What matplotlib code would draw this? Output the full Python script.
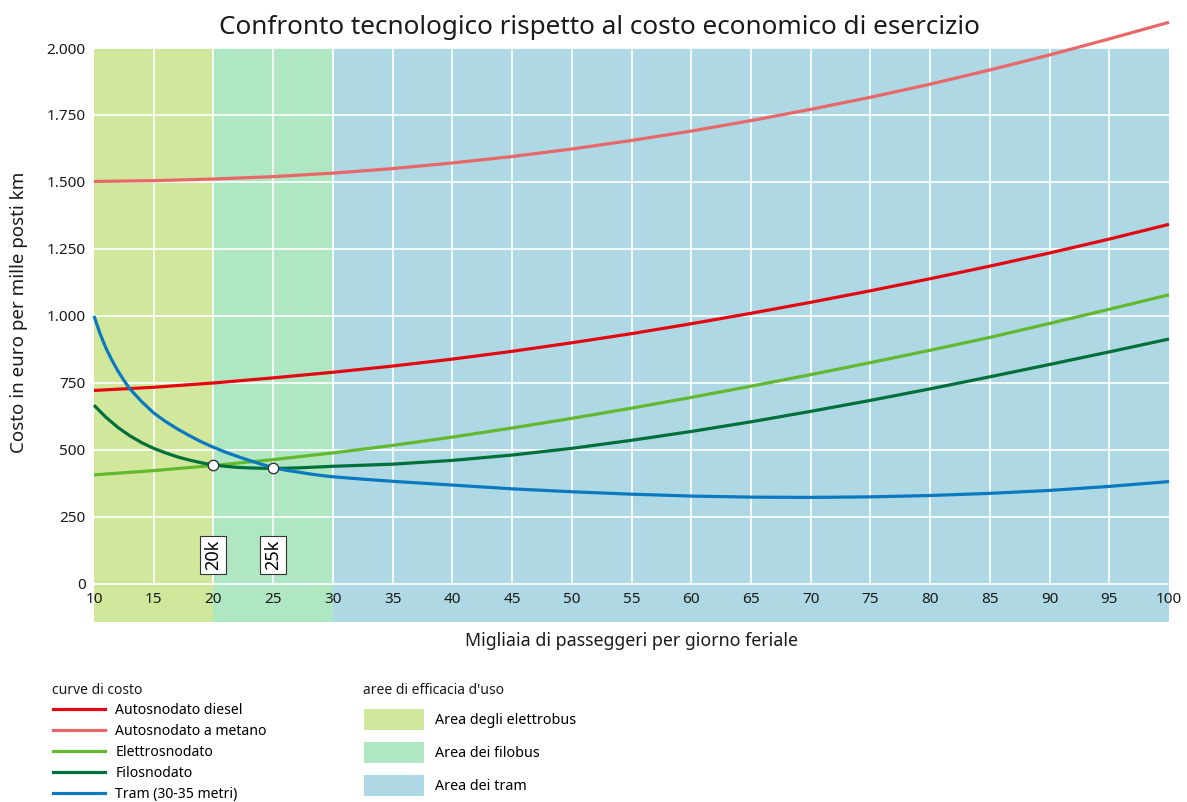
import matplotlib.pyplot as plt
from matplotlib.lines import Line2D
from matplotlib.patches import Patch
from matplotlib.ticker import FuncFormatter

plt.rcParams['font.family'] = ['Noto Sans', 'DejaVu Sans']

# migliaia di passeggeri per giorno feriale
x_main = [10, 15, 20, 25, 30, 35, 40, 45, 50, 55, 60, 65, 70, 75, 80, 85, 90, 95, 100]
diesel = [722, 734, 750, 769, 790, 813, 839, 868, 900, 934, 971, 1010, 1051, 1094, 1139, 1186, 1235, 1287, 1342]
metano = [1502, 1505, 1511, 1520, 1533, 1550, 1571, 1595, 1623, 1655, 1690, 1729, 1771, 1816, 1865, 1918, 1974, 2034, 2096]
elettro = [407, 423, 442, 464, 489, 517, 548, 582, 618, 656, 696, 738, 781, 826, 872, 920, 972, 1025, 1079]

x_filo = [10, 11, 12, 13, 14, 15, 16, 17, 18, 19, 20, 21, 22, 23, 24, 25, 26, 27, 28, 30,
          35, 40, 45, 50, 55, 60, 65, 70, 75, 80, 85, 90, 95, 100]
filo = [667, 622, 584, 553, 527, 506, 489, 474, 462, 452, 444, 439, 435, 433, 432, 431, 432, 433, 435, 439,
        447, 461, 481, 506, 536, 569, 605, 644, 685, 728, 773, 819, 866, 914]

x_tram = [10, 10.5, 11, 11.5, 12, 12.5, 13, 14, 15, 16, 17, 18, 19, 20, 21, 22, 23, 24, 25, 26, 27, 28, 29, 30,
          32.5, 35, 37.5, 40, 45, 50, 55, 60, 65, 70, 75, 80, 85, 90, 95, 100]
tram = [1000, 935, 880, 835, 795, 760, 728, 680, 638, 606, 578, 553, 530, 510, 492, 476, 461, 447, 434, 425, 418, 411, 405, 400,
        391, 383, 376, 369, 355, 344, 335, 328, 324, 323, 325, 330, 338, 349, 364, 382]

# punti di pareggio
soglie_x = [20, 25]
soglie_y = [443, 432]
soglie_lab = ['20k', '25k']

aree = [(10, 20, '#d1e79c', 'Area degli elettrobus'),
        (20, 30, '#aee7c1', 'Area dei filobus'),
        (30, 100, '#aed8e3', 'Area dei tram')]

serie = [(x_main, diesel, '#e30613', 'Autosnodato diesel'),
         (x_main, metano, '#e8686a', 'Autosnodato a metano'),
         (x_main, elettro, '#62b82f', 'Elettrosnodato'),
         (x_filo, filo, '#00703a', 'Filosnodato'),
         (x_tram, tram, '#0c78c0', 'Tram (30-35 metri)')]

fig = plt.figure(figsize=(11.87, 8.02), dpi=100)
ax = fig.add_axes([94 / 1187, 1 - 622 / 802, (1169 - 94) / 1187, (622 - 48) / 802])

for x0, x1, col, lab in aree:
    ax.axvspan(x0, x1, color=col, lw=0, zorder=0)

yticks = list(range(0, 2001, 250))
ax.hlines(yticks, 10, 100, colors='white', lw=1.2, zorder=0.6)
ax.vlines(range(15, 100, 5), 0, 2000, colors='white', lw=1.2, zorder=0.6)

for xs, ys, col, lab in serie:
    ax.plot(xs, ys, color=col, lw=2.3, clip_on=False, zorder=3,
            solid_capstyle='butt', solid_joinstyle='round')

ax.plot(soglie_x, soglie_y, 'o', ms=7.5, mfc='white', mec='#333333', mew=1, zorder=4)
for sx, lab in zip(soglie_x, soglie_lab):
    ax.text(sx, 108, lab, rotation=90, ha='center', va='center', fontsize=13, zorder=5,
            bbox=dict(boxstyle='square,pad=0.22', fc='white', ec='#333333', lw=0.8))

ax.set_xlim(10, 100)
ax.set_ylim(-142, 2000)
ax.set_xticks(range(10, 101, 5))
ax.set_yticks(yticks)
ax.yaxis.set_major_formatter(FuncFormatter(lambda v, p: f'{int(v):,}'.replace(',', '.')))
ax.tick_params(axis='both', length=0, labelsize=11, colors='#1a1a1a')
ax.tick_params(axis='x', pad=-21.5)
ax.tick_params(axis='y', pad=6)
for s in ax.spines.values():
    s.set_visible(False)

fig.text(0.505, 1 - 27 / 802, 'Confronto tecnologico rispetto al costo economico di esercizio',
         fontsize=18.8, color='#1a1a1a', ha='center', va='center')
ax.set_xlabel('Migliaia di passeggeri per giorno feriale', fontsize=12.8, color='#1a1a1a')
ax.xaxis.set_label_coords(0.5, -0.017)
ax.set_ylabel('Costo in euro per mille posti km', fontsize=13.5, color='#1a1a1a')
ax.yaxis.set_label_coords(-0.061, 0.54)

# legende in basso
fig.text(52 / 1187, 1 - 690 / 802, 'curve di costo', fontsize=10, weight='bold',
         ha='left', va='center', color='#1a1a1a')
fig.text(363 / 1187, 1 - 690 / 802, "aree di efficacia d'uso", fontsize=10, weight='bold',
         ha='left', va='center', color='#1a1a1a')

h1 = [Line2D([], [], color=col, lw=2.3) for _, _, col, _ in serie]
fig.legend(h1, [s[3] for s in serie], loc='upper left',
           bbox_to_anchor=(46 / 1187, 1 - 696 / 802), frameon=False,
           fontsize=10.1, borderpad=0, handlelength=3.7, handletextpad=0.73,
           labelspacing=0.42)

h2 = [Patch(color=col, lw=0) for _, _, col, _ in aree]
fig.legend(h2, [a[3] for a in aree], loc='upper left',
           bbox_to_anchor=(357 / 1187, 1 - 702 / 802), frameon=False,
           fontsize=10.3, borderpad=0, handlelength=4.2, handleheight=1.85, handletextpad=0.72,
           labelspacing=0.85)

fig.savefig('out.png', dpi=100, facecolor='white')
